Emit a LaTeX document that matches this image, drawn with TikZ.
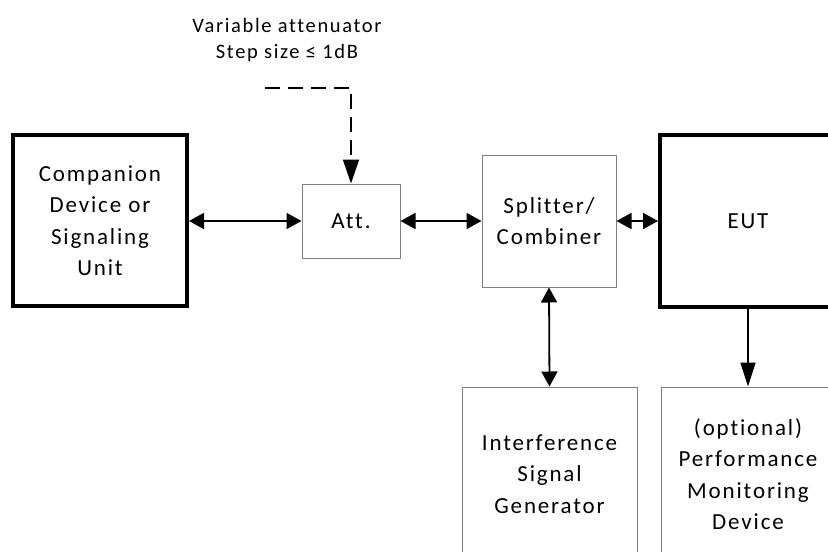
\documentclass[tikz,border=0pt]{standalone}
\usepackage{fontspec}
\setmainfont{Carlito}[LetterSpace=8, Ligatures={NoCommon,NoRequired,NoContextual}]
\usetikzlibrary{arrows.meta}

\begin{document}
\begin{tikzpicture}[x=1pt,y=-1pt,
  lbl/.style={font=\fontsize{23}{31.5}\selectfont, align=center, inner sep=0pt},
  toplbl/.style={font=\fontsize{20.5}{28}\selectfont, align=center, inner sep=0pt},
  thinbox/.style={lbl, draw=black!50, line width=1pt},
  thickbox/.style={lbl, draw=black, line width=4pt},
  link/.style={line width=1.8pt, {Triangle[length=15pt,width=16pt]}-{Triangle[length=15pt,width=16pt]}},
  oneway/.style={line width=1.8pt, -{Triangle[length=24pt,width=15pt]}},
  ctrl/.style={line width=1.8pt, dash pattern=on 15pt off 8pt, -{Triangle[length=24pt,width=16pt]}}]
  \useasboundingbox (0,0) rectangle (828,552);
  \clip (0,0) rectangle (828,552);

  % blocks
  \node[thickbox, minimum width=174pt, minimum height=171pt] (comp) at (100,220.5)
    {Companion\\Device or\\Signaling\\Unit};
  \node[thinbox, minimum width=98pt, minimum height=74pt] (att) at (351,221) {Att.};
  \node[thinbox, minimum width=134pt, minimum height=132pt] (split) at (549,221)
    {Splitter/\\Combiner};
  \node[thickbox, minimum width=176pt, minimum height=172pt] (eut) at (748,221) {EUT};
  \node[thinbox, minimum width=175pt, minimum height=174pt] (isg) at (549.5,474)
    {Interference\\Signal\\Generator};
  \node[thinbox, minimum width=174pt, minimum height=174pt] (pmd) at (748,474)
    {(optional)\\Performance\\Monitoring\\Device};

  % attenuator control label
  \node[toplbl] (vatt) at (287,25) {Variable attenuator};
  \node[toplbl] (step) at (287,53) {Step size ≤ 1dB};
  \coordinate (dstart) at (265,88);

  % connections
  \draw[link] (comp.east |- 0,221) -- (att.west);
  \draw[link] (att.east) -- (split.west);
  \draw[link] (split.east) -- (eut.west);
  \draw[link] (split.south) -- (isg.north);
  \draw[oneway] (eut.south) -- (pmd.north);
  \draw[ctrl] (dstart) -| (att.north);
\end{tikzpicture}
\end{document}
